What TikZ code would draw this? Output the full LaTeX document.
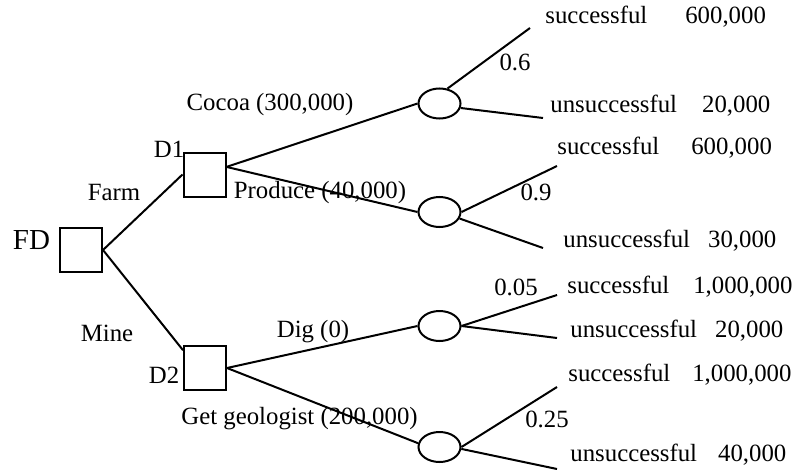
\documentclass[tikz,border=0pt]{standalone}
\usepackage{fontspec}
\setmainfont{Liberation Serif}
\usepackage{tikz}
\usetikzlibrary{shapes.geometric}

\begin{document}
\begin{tikzpicture}[x=0.5pt,y=0.5pt,yscale=-1,xscale=1,
  decision/.style={draw,line width=1pt,rectangle,minimum width=21pt,minimum height=22pt,inner sep=0pt},
  chance/.style={draw,line width=1pt,ellipse,minimum width=21pt,minimum height=15pt,inner sep=0pt},
  branch/.style={line width=1pt},
  txt/.style={inner sep=0pt,font=\fontsize{12.4}{14}\selectfont},
  leaf/.style={txt,anchor=west}]
\useasboundingbox (0,0) rectangle (797,476);

%Shapes: decision boxes
\node [decision] (FD) at (81,250) {};
\node [decision] (D1) at (204.5,174.5) {};
\node [decision] (D2) at (205,368) {};
%Shapes: chance ellipses
\node [chance] (E1) at (439.5,103.5) {};
\node [chance] (E2) at (439.5,212) {};
\node [chance] (E3) at (439.5,326) {};
\node [chance] (E4) at (439.5,447) {};

%Branch ends
\coordinate (s1) at (530,28);
\coordinate (u1) at (543,118);
\coordinate (s2) at (557,166);
\coordinate (u2) at (543,248);
\coordinate (s3) at (557,295);
\coordinate (u3) at (557,338);
\coordinate (s4) at (557,387);
\coordinate (u4) at (557,469);

%Straight Lines
\draw [branch] (FD.east) -- (D1.west);
\draw [branch] (FD.east) -- (D2.141);
\draw [branch] (D1.19) -- (E1.west);
\draw [branch] (D1.19) -- (E2.west);
\draw [branch] (D2.east) -- (E3.west);
\draw [branch] (D2.east) -- (E4.170);
\draw [branch] (E1.62) -- (s1);
\draw [branch] (E1.-12) -- (u1);
\draw [branch] (E2.east) -- (s2);
\draw [branch] (E2.-18) -- (u2);
\draw [branch] (E3.east) -- (s3);
\draw [branch] (E3.east) -- (u3);
\draw [branch] (E4.east) -- (s4);
\draw [branch] (E4.-5) -- (u4);

% Text Node
\node [txt,font=\fontsize{14.5}{17}\selectfont] (tFD) at (31.5,240) {FD};
\node [txt] (tD1) at (169,149) {D1};
\node [txt] (tD2) at (164,375) {D2};
\node [txt] (tFarm) at (114,193) {Farm};
\node [txt] (tMine) at (107,333) {Mine};
\node [txt] (tCocoa) at (270,105) {Cocoa (300,000)};
\node [txt] (tProduce) at (320,193) {Produce (40,000)};
\node [txt] (tDig) at (313,332) {Dig (0)};
\node [txt,anchor=west] (tGeo) at (181,419) {Get geologist (200,000)};
\node [txt] (p1) at (515,62) {0.6};
\node [txt] (p2) at (536,192) {0.9};
\node [txt] (p3) at (516,287) {0.05};
\node [txt] (p4) at (547,419) {0.25};
% Text Node
\node [leaf] (l1) at (545,17) {successful\hspace{19pt}600,000};
\node [leaf] (l2) at (550,106) {unsuccessful\hspace{12.5pt}20,000};
\node [leaf] (l3) at (557,148) {successful\hspace{16pt}600,000};
\node [leaf] (l4) at (563,241) {unsuccessful\hspace{9pt}30,000};
\node [leaf] (l5) at (567,287) {successful\hspace{12pt}1,000,000};
\node [leaf] (l6) at (570,331) {unsuccessful\hspace{9pt}20,000};
\node [leaf] (l7) at (568,375) {successful\hspace{11pt}1,000,000};
\node [leaf] (l8) at (570,455) {unsuccessful\hspace{10.5pt}40,000};

\end{tikzpicture}
\end{document}
